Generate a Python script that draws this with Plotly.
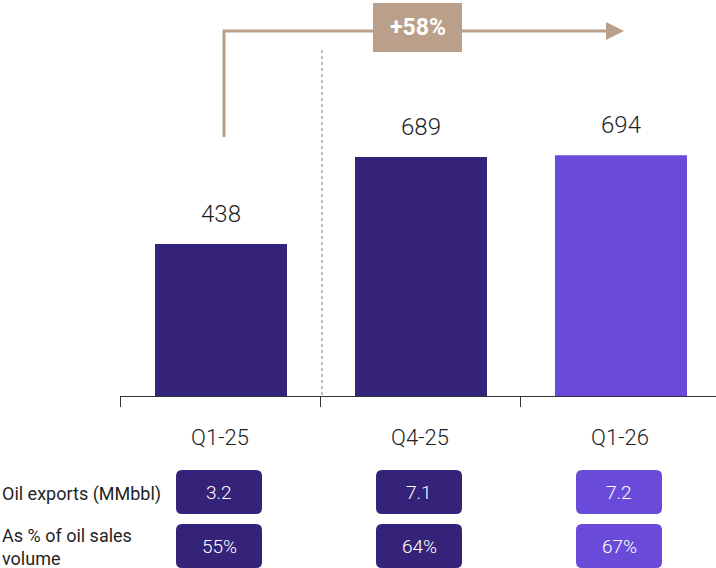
import plotly.graph_objects as go

# ---- data -------------------------------------------------------------
quarters = ["Q1-25", "Q4-25", "Q1-26"]
volumes = [438, 689, 694]            # bar values
exports_mmbbl = [3.2, 7.1, 7.2]      # oil exports, MMbbl
share_of_sales = [55, 64, 67]        # % of oil sales volume
growth_label = "+58%"
row_labels = ["Oil exports (MMbbl)", "As % of oil sales<br>volume"]

# ---- style --------------------------------------------------------------
DARK = "#35237A"
LIGHT = "#6A4BD9"
TAN = "#BA9F8A"
TEXT = "#1F1F1F"
GRID_GREY = "#A8A8A8"
FONT = "Roboto"
BIG_WEIGHT = 300     # large value / category labels
SMALL_WEIGHT = 400   # table text
bar_colors = [DARK, DARK, LIGHT]

W, H = 716, 568
X_RANGE = [-1.105, 2.475]   # 200 px per category
Y_RANGE = [-495.6, 1141.1]  # baseline sits 172 px above the bottom edge
AXIS_Y = 396                # pixel row of the category axis
AXIS_LEFT = 120             # pixel column where the category axis starts


def py(p):
    """pixel row -> paper y"""
    return 1 - p / H


def px(p):
    """pixel column -> paper x"""
    return p / W


def rounded_box(xc, half_w, y_top, y_bot, r=6):
    """rounded rectangle path: x in data units, y in paper units"""
    rx = r / 200.0
    ry = r / H
    x0, x1 = xc - half_w, xc + half_w
    y0, y1 = py(y_bot), py(y_top)
    return (
        f"M {x0 + rx},{y0} L {x1 - rx},{y0} Q {x1},{y0} {x1},{y0 + ry} "
        f"L {x1},{y1 - ry} Q {x1},{y1} {x1 - rx},{y1} "
        f"L {x0 + rx},{y1} Q {x0},{y1} {x0},{y1 - ry} "
        f"L {x0},{y0 + ry} Q {x0},{y0} {x0 + rx},{y0} Z"
    )


fig = go.Figure()

fig.add_trace(go.Bar(
    x=list(range(len(quarters))), y=volumes, width=0.66,
    marker=dict(color=bar_colors, line=dict(width=0)),
    hoverinfo="skip", showlegend=False,
))

# invisible trace that carries the category axis with its boundary ticks
fig.add_trace(go.Scatter(
    x=quarters, y=[0] * len(quarters), xaxis="x2", yaxis="y",
    mode="markers", marker=dict(opacity=0), hoverinfo="skip", showlegend=False,
))

annotations = []
shapes = []

# value labels above the bars
for i, v in enumerate(volumes):
    annotations.append(dict(
        x=i, y=v, xref="x", yref="y", text=str(v), showarrow=False,
        xanchor="center", yanchor="bottom", yshift=14,
        font=dict(family=FONT, size=24, color=TEXT, weight=BIG_WEIGHT),
    ))

# table rows under the axis
rows = [
    (exports_mmbbl, lambda v: f"{v:.1f}", 470, 514),
    (share_of_sales, lambda v: f"{v}%", 524, 568),
]
for values, fmt, top, bot in rows:
    for i, v in enumerate(values):
        shapes.append(dict(
            type="path", xref="x", yref="paper",
            path=rounded_box(i - 0.01, 0.215, top, bot),
            fillcolor=bar_colors[i], line=dict(width=0), layer="above",
        ))
        annotations.append(dict(
            x=i - 0.01, y=py((top + bot) / 2), xref="x", yref="paper", text=fmt(v),
            showarrow=False, xanchor="center", yanchor="middle",
            font=dict(family=FONT, size=19, color="white", weight=BIG_WEIGHT),
        ))

annotations.append(dict(
    x=0, y=py(494), xref="paper", yref="paper", text=row_labels[0],
    showarrow=False, xanchor="left", yanchor="middle", align="left",
    font=dict(family=FONT, size=18, color=TEXT, weight=SMALL_WEIGHT),
))
annotations.append(dict(
    x=0, y=py(547), xref="paper", yref="paper", text=row_labels[1],
    showarrow=False, xanchor="left", yanchor="middle", align="left",
    font=dict(family=FONT, size=18, color=TEXT, weight=SMALL_WEIGHT),
))

# dotted divider between Q1-25 and Q4-25
shapes.append(dict(
    type="line", xref="paper", yref="paper",
    x0=px(322), x1=px(322), y0=py(50), y1=py(AXIS_Y),
    line=dict(color=GRID_GREY, width=1.5, dash="3px,3px"), layer="below",
))

# growth arrow
shapes.append(dict(
    type="path", xref="paper", yref="paper",
    path=f"M {px(224)},{py(137)} L {px(224)},{py(31)} L {px(608)},{py(31)}",
    line=dict(color=TAN, width=3),
))
shapes.append(dict(
    type="path", xref="paper", yref="paper",
    path=f"M {px(606)},{py(22)} L {px(624)},{py(31)} L {px(606)},{py(40)} Z",
    fillcolor=TAN, line=dict(width=0),
))
shapes.append(dict(
    type="rect", xref="paper", yref="paper",
    x0=px(373), x1=px(462), y0=py(52), y1=py(3),
    fillcolor=TAN, line=dict(width=0),
))
annotations.append(dict(
    x=px(417.5), y=py(27.5), xref="paper", yref="paper", text=f"<b>{growth_label}</b>",
    showarrow=False, xanchor="center", yanchor="middle",
    font=dict(family=FONT, size=23, color="white"),
))

fig.update_layout(
    width=W, height=H,
    margin=dict(l=0, r=0, t=0, b=0),
    paper_bgcolor="white", plot_bgcolor="rgba(0,0,0,0)",
    showlegend=False,
    xaxis=dict(range=X_RANGE, visible=False, domain=[0, 1]),
    yaxis=dict(range=Y_RANGE, visible=False, domain=[0, 1]),
    xaxis2=dict(
        type="category", categoryorder="array", categoryarray=quarters,
        anchor="free", position=(H - AXIS_Y) / H,
        domain=[AXIS_LEFT / W, 1],
        range=[-0.5, -0.5 + (W - AXIS_LEFT) / 200.0],
        tickson="boundaries", ticks="outside", ticklen=10, tickwidth=1,
        tickcolor="#333333", showline=True, linecolor="#333333", linewidth=1,
        showgrid=False, zeroline=False, ticklabelstandoff=22,
        tickfont=dict(family=FONT, size=22, color=TEXT, weight=BIG_WEIGHT),
    ),
    shapes=shapes,
    annotations=annotations,
)

fig.write_html("out.html")
